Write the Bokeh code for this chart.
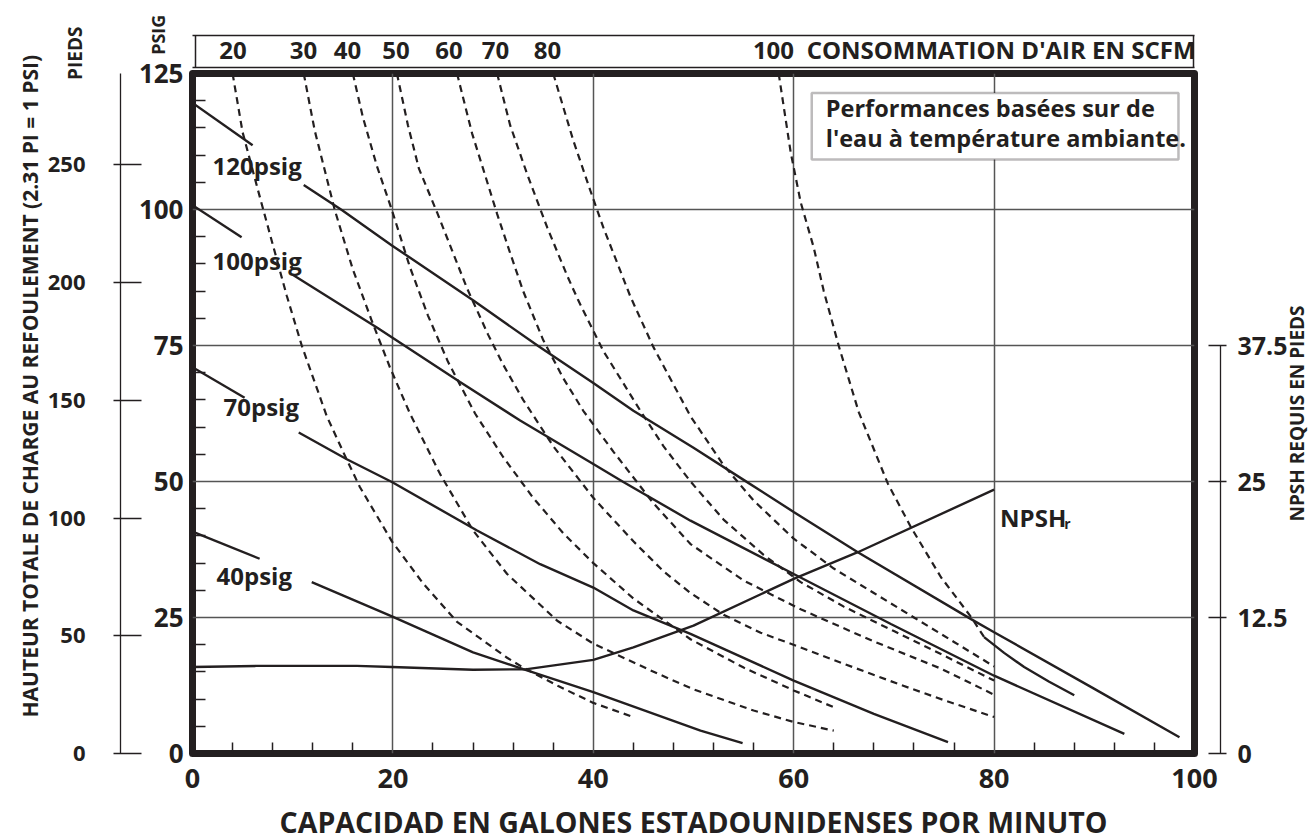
import math
from bokeh.plotting import figure
from bokeh.models import (Range1d, LinearAxis, FixedTicker, Grid, Label, LabelSet,
                          ColumnDataSource, BoxAnnotation)
from bokeh.core.properties import value
from bokeh.embed import file_html
from bokeh.resources import INLINE

INK = "#231f20"
GRID = "#555555"
FONT = "Open Sans"

# ---------------- axes / ticks ----------------
X_TICKS = [0, 20, 40, 60, 80, 100]
X_MINOR = [4, 8, 12, 16, 24, 28, 32, 36, 44, 48, 52, 56, 64, 68, 72, 76, 84, 88, 92, 96]
X_GRID = [20, 40, 60, 80]
PSI_TICKS = [0, 25, 50, 75, 100, 125]
PSI_MINOR = [5, 10, 15, 20, 30, 35, 40, 45, 55, 60, 65, 70, 80, 85, 90, 95, 105, 110, 115, 120]
PSI_GRID = [25, 50, 75, 100]
FT_TICKS = [0, 50, 100, 150, 200, 250]
FT_PER_PSI = 2.31
NPSH_TICKS = [0, 12.5, 25, 37.5]
NPSH_LABELS = ["0", "12.5", "25", "37.5"]

# air consumption scale (top box), positions in gpm
SCFM_TEXT = ["20", "30", "40", "50", "60", "70", "80", "100", "CONSOMMATION D'AIR EN SCFM"]
SCFM_LABEL_X = [4.04, 11.08, 15.47, 20.31, 25.6, 30.24, 35.43, 57.98, 80.7]

# ---------------- pressure curves (solid), psig ----------------
P120_X1 = [0, 6.0]
P120_Y1 = [119.6, 111.8]
P120_X2 = [11.1, 14.9, 19.9, 28.0, 34.5, 40.0, 44.0, 50.0, 55.0, 60.0, 66.4, 77.7, 80.0, 89.7, 98.5]
P120_Y2 = [104.5, 99.9, 93.4, 83.3, 74.9, 68.1, 63.0, 56.2, 50.3, 44.4, 37.0, 24.7, 22.3, 12.2, 3.0]

P100_X1 = [0, 4.9]
P100_Y1 = [100.8, 94.9]
P100_X2 = [10.0, 18.4, 26.7, 32.7, 40.0, 43.0, 49.7, 60.0, 69.7, 80.0, 93.0]
P100_Y2 = [88.0, 78.3, 68.3, 61.2, 53.2, 49.9, 42.8, 33.0, 23.8, 14.3, 3.6]

P70_X1 = [0, 5.2]
P70_Y1 = [71.0, 65.4]
P70_X2 = [10.6, 15.4, 19.9, 28.4, 34.7, 40.0, 44.0, 49.7, 60.0, 68.0, 75.4]
P70_Y2 = [59.0, 54.1, 49.9, 41.0, 34.8, 30.5, 26.3, 22.0, 13.4, 7.3, 2.1]

P40_X1 = [0, 6.7]
P40_Y1 = [40.8, 35.8]
P40_X2 = [11.9, 19.9, 28.0, 33.0, 40.0, 50.7, 54.9]
P40_Y2 = [31.5, 25.2, 18.6, 15.5, 11.3, 4.2, 1.9]

PSIG_TEXT = ["120psig", "100psig", "70psig", "40psig"]
PSIG_LABEL_X = [2.0, 2.0, 3.1, 2.4]
PSIG_LABEL_Y = [106.4, 88.8, 62.1, 30.9]

# ---------------- NPSH required (feet, right axis) ----------------
NPSH_X = [0, 6.4, 16.4, 19.9, 28.0, 33.4, 40.0, 44.0, 50.0, 60.0, 66.4, 80.0]
NPSH_Y = [7.95, 8.05, 8.05, 7.95, 7.7, 7.75, 8.6, 9.75, 11.75, 16.05, 18.5, 24.25]

# ---------------- air consumption curves (dashed), SCFM ----------------
S20_X = [4.0, 5.0, 6.5, 7.5, 9.4, 10.9, 13.4, 15.4, 16.7, 19.9, 23.0, 26.4, 31.4, 33.0, 36.5, 40.0, 44.0]
S20_Y = [125, 114.2, 103.8, 97.0, 84.2, 75.0, 62.0, 54.0, 49.0, 39.0, 31.3, 24.2, 17.6, 15.8, 12.4, 9.3, 6.7]
S30_X = [11.1, 12.2, 14.2, 16.0, 17.9, 19.7, 21.7, 24.7, 28.0, 31.4, 36.4, 40.0, 46.4, 50.0, 56.0, 60.0, 64.0]
S30_Y = [125, 114.5, 99.9, 89.0, 79.5, 71.0, 62.5, 51.4, 41.0, 33.0, 24.4, 20.2, 14.7, 11.8, 7.9, 5.8, 4.2]
S40_X = [16.0, 17.0, 18.4, 19.9, 21.7, 23.5, 25.5, 28.2, 31.0, 34.0, 37.0, 40.0, 44.0, 49.7, 55.0, 60.0, 64.0]
S40_Y = [125, 117.0, 108.0, 99.9, 89.4, 80.5, 72.0, 62.5, 54.5, 47.0, 40.5, 35.0, 28.5, 21.0, 15.8, 11.6, 8.5]
S50_X = [20.4, 21.5, 22.6, 24.4, 25.9, 27.4, 29.5, 31.0, 33.0, 36.0, 40.0, 44.0, 47.0, 49.7, 53.0, 56.7, 60.7, 65.0, 70.7, 75.0, 80.0]
S50_Y = [125, 115.5, 107.5, 99.5, 92.5, 85.5, 77.0, 71.5, 65.0, 56.5, 47.0, 39.0, 33.5, 29.5, 25.5, 22.2, 19.5, 16.5, 12.6, 9.8, 6.7]
S60_X = [26.4, 27.9, 29.0, 30.4, 31.7, 33.0, 35.0, 37.0, 39.0, 42.0, 46.0, 49.7, 55.0, 60.7, 68.0, 74.7, 80.0]
S60_Y = [125, 114.0, 107.5, 99.2, 92.0, 85.0, 76.0, 69.0, 63.0, 55.5, 46.0, 38.5, 31.8, 26.5, 20.6, 15.6, 10.8]
S70_X = [30.4, 31.7, 33.4, 35.4, 37.4, 38.5, 41.0, 44.7, 47.0, 49.7, 53.0, 57.0, 60.7, 65.0, 70.0, 75.0, 80.0]
S70_Y = [125, 115.5, 106.5, 96.7, 87.8, 83.3, 74.0, 63.0, 56.5, 50.0, 43.0, 36.5, 31.5, 27.0, 22.5, 18.0, 13.4]
S80_X = [36.0, 38.0, 39.7, 41.0, 43.7, 46.0, 49.7, 53.0, 56.0, 60.0, 64.0, 68.0, 72.0, 76.0, 80.0]
S80_Y = [125, 112.7, 103.5, 96.7, 84.0, 74.7, 62.0, 53.0, 46.5, 39.5, 34.0, 29.5, 25.0, 20.5, 16.0]
S100_X = [58.5, 59.7, 60.7, 62.0, 63.0, 64.5, 66.5, 69.4, 71.7, 74.7, 77.7, 79.0]
S100_Y = [125, 110.5, 101.3, 93.0, 85.0, 74.9, 62.7, 49.6, 41.6, 32.4, 25.1, 21.4]
S100_SOLID_X = [79.0, 81.0, 83.0, 85.5, 88.0]
S100_SOLID_Y = [21.4, 18.5, 15.9, 13.2, 10.7]

# ---------------- figure ----------------
p = figure(frame_width=1002, frame_height=680,
           min_border_left=192, min_border_right=110, min_border_top=73, min_border_bottom=80,
           x_range=Range1d(0, 100), y_range=Range1d(0, 125),
           x_axis_type=None, y_axis_type=None,
           output_backend="svg", toolbar_location=None)
p.extra_y_ranges = {"feet": Range1d(0, 125 * FT_PER_PSI), "npsh": Range1d(0, 62.5)}
p.background_fill_color = "white"
p.border_fill_color = "white"
p.outline_line_color = INK
p.outline_line_width = 7
p.outline_line_join = "round"

p.add_layout(Grid(dimension=0, ticker=FixedTicker(ticks=X_GRID),
                  grid_line_color=GRID, grid_line_width=1.5))
p.add_layout(Grid(dimension=1, ticker=FixedTicker(ticks=PSI_GRID),
                  grid_line_color=GRID, grid_line_width=1.5))

lab = dict(major_label_text_font=FONT, major_label_text_font_style="bold",
           major_label_text_color=INK)
ttl = dict(axis_label_text_font=FONT, axis_label_text_font_style="bold",
           axis_label_text_color=INK)
bare = dict(minor_tick_line_color=None, minor_tick_in=0, minor_tick_out=0)
NBSP = "\u00a0"


def spacer(size, tick):
    return LinearAxis(ticker=FixedTicker(ticks=[tick]), major_label_overrides={tick: ""},
                      axis_line_color=None, major_tick_line_color=None,
                      major_tick_in=0, major_tick_out=size, major_label_standoff=0, **bare)


# bottom axis
ax_x = LinearAxis(ticker=FixedTicker(ticks=X_TICKS, minor_ticks=X_MINOR),
                  axis_line_color=None, major_tick_line_color=None,
                  major_tick_in=0, major_tick_out=0,
                  minor_tick_in=11, minor_tick_out=0, minor_tick_line_color=INK,
                  minor_tick_line_width=1.5, major_label_standoff=15,
                  major_label_text_font_size="27px", **lab,
                  axis_label="CAPACIDAD EN GALONES ESTADOUNIDENSES POR MINUTO",
                  axis_label_standoff=12, axis_label_text_font_size="28.5px", **ttl)
p.add_layout(ax_x, "below")

# left: psi (with PSIG title on top), spacer, feet (with PIEDS title on top), main title
ax_psi = LinearAxis(ticker=FixedTicker(ticks=PSI_TICKS, minor_ticks=PSI_MINOR),
                    axis_line_color=None, major_tick_line_color=None,
                    major_tick_in=0, major_tick_out=0,
                    minor_tick_in=13, minor_tick_out=0, minor_tick_line_color=INK,
                    minor_tick_line_width=1.5, major_label_standoff=9,
                    major_label_text_font_size="26px", **lab,
                    axis_label=NBSP * 162 + "PSIG", axis_label_standoff=-34,
                    axis_label_text_font_size="18px", **ttl)
p.add_layout(ax_psi, "left")
p.add_layout(spacer(22, 50), "left")

ax_ft = LinearAxis(y_range_name="feet", ticker=FixedTicker(ticks=FT_TICKS),
                   axis_line_color=INK, axis_line_width=1.3,
                   major_tick_line_color=INK, major_tick_line_width=1.3,
                   major_tick_in=21, major_tick_out=7, **bare,
                   major_label_standoff=28, major_label_text_font_size="22px", **lab,
                   axis_label=NBSP * 146 + "PIEDS", axis_label_standoff=-43,
                   axis_label_text_font_size="19px", **ttl)
p.add_layout(ax_ft, "left")

ax_title = LinearAxis(ticker=FixedTicker(ticks=[50]), major_label_overrides={50: ""},
                      axis_line_color=None, major_tick_line_color=None,
                      major_tick_in=0, major_tick_out=0, major_label_standoff=0, **bare,
                      axis_label=NBSP * 10 + "HAUTEUR TOTALE DE CHARGE AU REFOULEMENT (2.31 PI = 1 PSI)",
                      axis_label_standoff=15, axis_label_text_font_size="21px", **ttl)
p.add_layout(ax_title, "left")

# right: spacer, NPSH
p.add_layout(spacer(26, 50), "right")
ax_np = LinearAxis(y_range_name="npsh", ticker=FixedTicker(ticks=NPSH_TICKS),
                   bounds=(0, 37.5),
                   major_label_overrides={t: s for t, s in zip(NPSH_TICKS, NPSH_LABELS)},
                   axis_line_color=INK, axis_line_width=1.3,
                   major_tick_line_color=INK, major_tick_line_width=1.3,
                   major_tick_in=12, major_tick_out=6, **bare,
                   major_label_standoff=11, major_label_text_font_size="25px", **lab,
                   axis_label=NBSP * 47 + "NPSH REQUIS EN PIEDS",
                   axis_label_standoff=6, axis_label_text_font_size="19px", **ttl)
ax_np.axis_label_orientation = math.pi / 2
for _a in ("start", "left"):
    try:
        ax_np.axis_label_align = _a
        break
    except Exception:
        pass
p.add_layout(ax_np, "right")

# above: gap, box (bottom edge + sides), box top edge, scfm labels
p.add_layout(spacer(6, 50), "above")
ax_box = LinearAxis(ticker=FixedTicker(ticks=[0.3, 99.9]),
                    major_label_overrides={0.3: "", 99.9: ""},
                    axis_line_color=INK, axis_line_width=1.5,
                    major_tick_line_color=INK, major_tick_line_width=1.5,
                    major_tick_in=0, major_tick_out=32, major_label_standoff=0, **bare)
p.add_layout(ax_box, "above")
ax_boxtop = LinearAxis(ticker=FixedTicker(ticks=[50]), major_label_overrides={50: ""},
                       axis_line_color=INK, axis_line_width=1.5,
                       major_tick_line_color=None, major_tick_in=0, major_tick_out=0,
                       major_label_standoff=0, **bare)
p.add_layout(ax_boxtop, "above")
ax_scfm = LinearAxis(ticker=FixedTicker(ticks=SCFM_LABEL_X),
                     major_label_overrides={x: t for x, t in zip(SCFM_LABEL_X, SCFM_TEXT)},
                     axis_line_color=None, major_tick_line_color=None,
                     major_tick_in=0, major_tick_out=0, major_label_standoff=-30,
                     major_label_text_font_size="24px", **lab, **bare)
p.add_layout(ax_scfm, "above")

# ---------------- curves ----------------
SOLID_W = 2.4
DASH_W = 2.2
for xs, ys in [(P120_X1, P120_Y1), (P120_X2, P120_Y2), (P100_X1, P100_Y1), (P100_X2, P100_Y2),
               (P70_X1, P70_Y1), (P70_X2, P70_Y2), (P40_X1, P40_Y1), (P40_X2, P40_Y2),
               (S100_SOLID_X, S100_SOLID_Y)]:
    p.line(xs, ys, line_color=INK, line_width=SOLID_W)

for xs, ys in [(S20_X, S20_Y), (S30_X, S30_Y), (S40_X, S40_Y), (S50_X, S50_Y),
               (S60_X, S60_Y), (S70_X, S70_Y), (S80_X, S80_Y), (S100_X, S100_Y)]:
    p.line(xs, ys, line_color=INK, line_width=DASH_W, line_dash="7 5")

p.line(NPSH_X, NPSH_Y, y_range_name="npsh", line_color=INK, line_width=SOLID_W)

# ---------------- texts inside the frame ----------------
psig_src = ColumnDataSource(dict(x=PSIG_LABEL_X, y=PSIG_LABEL_Y, t=PSIG_TEXT))
p.add_layout(LabelSet(x="x", y="y", text="t", source=psig_src,
                      text_font=value(FONT), text_font_style="bold",
                      text_font_size="24px", text_color=INK,
                      text_align="left", text_baseline="alphabetic"))

p.add_layout(Label(x=80.6, y=43.4, text="NPSH", text_font=FONT, text_font_style="bold",
                   text_font_size="24px", text_color=INK, text_baseline="alphabetic"))
p.add_layout(Label(x=87.0, y=42.3, text="r", text_font=FONT, text_font_style="bold",
                   text_font_size="14px", text_color=INK, text_baseline="alphabetic"))

# note box
p.add_layout(BoxAnnotation(left=61.8, right=98.4, bottom=109.2, top=121.4,
                           fill_color="white", fill_alpha=1.0,
                           line_color=INK, line_width=2.5))
NOTE_TEXT = ["Performances basées sur de", "l'eau à température ambiante."]
note_src = ColumnDataSource(dict(x=[63.2, 63.2], y=[117.0, 111.4], t=NOTE_TEXT))
p.add_layout(LabelSet(x="x", y="y", text="t", source=note_src,
                      text_font=value(FONT), text_font_style="bold",
                      text_font_size="23.5px", text_color=INK,
                      text_align="left", text_baseline="alphabetic"))

open("out.html", "w").write(file_html(p, INLINE))
